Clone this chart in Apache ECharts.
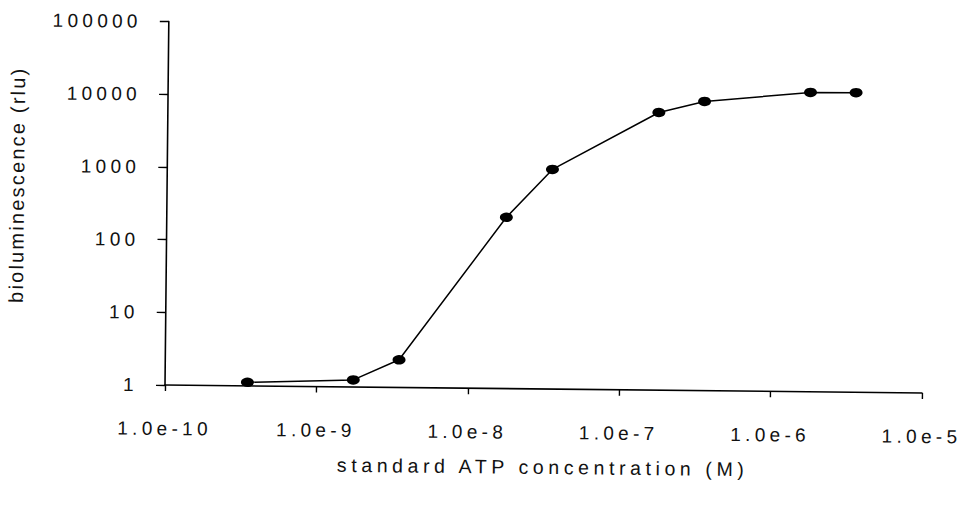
<!DOCTYPE html>
<html>
<head>
<meta charset="utf-8">
<title>ATP standard curve</title>
<script src="https://cdn.jsdelivr.net/npm/echarts@6/dist/echarts.min.js"></script>
<style>
  html, body { margin: 0; padding: 0; background: #ffffff; }
  #chart {
    width: 960px; height: 507px;
    transform: rotate(0.6deg);
    transform-origin: 165px 385px;
  }
  /* wide tracking: tick labels (19px) and x-axis title (19.5px) */
  #chart svg text[style*="19px"] { letter-spacing: 4.3px; }
  #chart svg text[style*="19.5px"] { letter-spacing: 4.6px; }
  #chart svg text[style*="20px"] { letter-spacing: 2.2px; }
</style>
</head>
<body>
<div id="chart"></div>
<script>
// ATP concentration (M) and measured bioluminescence (rlu)
const atpConcentration = [3.5e-10, 1.75e-9, 3.5e-9, 1.75e-8, 3.5e-8, 1.75e-7, 3.5e-7, 1.75e-6, 3.5e-6];
const luminescence     = [1.12, 1.25, 2.4, 227, 1050, 6600, 9500, 13100, 13200];

// decade tick labels
const xTickLabels = ['1.0e-10', '1.0e-9', '1.0e-8', '1.0e-7', '1.0e-6', '1.0e-5'];
const yTickLabels = ['1', '10', '100', '1000', '10000', '100000'];

const xAxisTitle = 'standard ATP concentration (M)';
const yAxisTitle = 'bioluminescence (rlu)';

const points = atpConcentration.map((x, i) => [x, luminescence[i]]);

const chart = echarts.init(document.getElementById('chart'), null, { renderer: 'svg' });

const font = "'Liberation Sans', Arial, sans-serif";

chart.setOption({
  animation: false,
  backgroundColor: '#ffffff',
  grid: {
    left: 165, right: 38, top: 21.5, bottom: 122,
    containLabel: false,
    outerBoundsMode: 'none'
  },
  xAxis: {
    type: 'log',
    logBase: 10,
    min: 1e-10,
    max: 1e-5,
    name: xAxisTitle,
    nameLocation: 'middle',
    nameGap: 68,
    nameTextStyle: { fontFamily: font, fontSize: 19.5, color: '#111' },
    axisLine: { show: true, lineStyle: { color: '#000', width: 1.6 } },
    axisTick: { show: true, length: 6, lineStyle: { color: '#000', width: 1.4 } },
    minorTick: { show: false },
    splitLine: { show: false },
    axisLabel: {
      margin: 34,
      fontFamily: font,
      fontSize: 19,
      color: '#111',
      formatter: v => xTickLabels[Math.round(Math.log10(v)) + 10]
    }
  },
  yAxis: {
    type: 'log',
    logBase: 10,
    min: 1,
    max: 100000,
    name: yAxisTitle,
    nameLocation: 'middle',
    nameGap: 140,
    nameTextStyle: { fontFamily: font, fontSize: 20, color: '#111', padding: [0, 0, 0, 34] },
    axisLine: { show: true, lineStyle: { color: '#000', width: 1.6 } },
    axisTick: { show: true, length: 9, lineStyle: { color: '#000', width: 1.4 } },
    splitLine: { show: false },
    axisLabel: {
      margin: 27,
      fontFamily: font,
      fontSize: 19,
      color: '#111',
      formatter: v => yTickLabels[Math.round(Math.log10(v))]
    }
  },
  series: [{
    type: 'line',
    data: points,
    symbol: 'circle',
    symbolSize: [13, 9.5],
    showSymbol: true,
    itemStyle: { color: '#000', borderWidth: 0 },
    lineStyle: { color: '#000', width: 1.5 },
    z: 3
  }]
});
</script>
</body>
</html>
